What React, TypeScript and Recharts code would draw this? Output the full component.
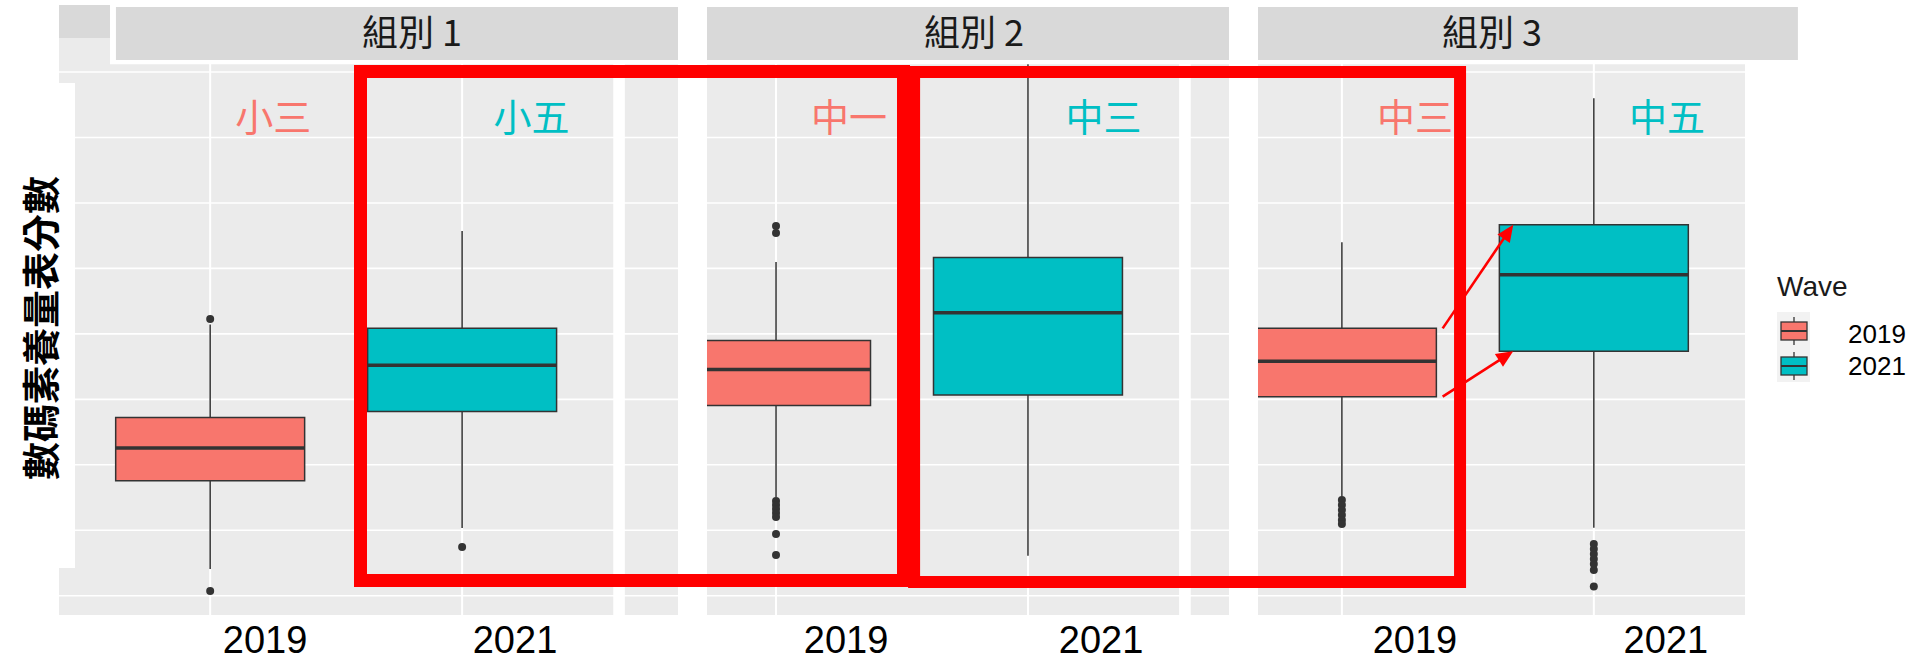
import { ComposedChart, XAxis, YAxis, ReferenceArea, ReferenceLine, Scatter } from 'recharts';

// facets, years and the grade shown in each box (order: 組別1-2019, 組別1-2021, 組別2-2019, ...)
const GROUPS = ['組別 1', '組別 2', '組別 3'];
const YEARS = ['2019', '2021'];
const GRADES = ['小三', '小五', '中一', '中三', '中三', '中五'];

// box statistics
const WHISKER_HIGH = [40.71, 47.86, 45.49, 62.0, 46.99, 58.0];
const Q3 = [33.62, 40.42, 39.5, 45.83, 40.42, 48.34];
const MEDIAN = [31.28, 37.6, 37.27, 41.61, 37.91, 44.52];
const Q1 = [28.79, 34.07, 34.52, 35.33, 35.2, 38.68];
const WHISKER_LOW = [22.04, 25.17, 27.54, 23.06, 27.57, 25.19];
const OUTLIERS = [
  [41.14, 20.36],
  [23.72],
  [48.24, 47.71, 27.23, 26.93, 26.62, 26.32, 26.01, 24.71, 23.11],
  [],
  [27.31, 26.93, 26.54, 26.16, 25.78, 25.48],
  [23.95, 23.57, 23.19, 22.8, 22.42, 21.96, 20.7],
];
const GRID_VALUES = [20, 25, 30, 35, 40, 45, 50, 55, 60];

// layout (data units)
const W = 1912;
const H = 661;
const X_DOMAIN = [-0.6, 6.092];
const Y_DOMAIN = [18.526, 62.6];
const PANEL_STEP = 2.246;
const BOX_HALF = 0.375;
const COLORS = ['#F8766D', '#00BFC4'];
const PANEL_BG = '#EBEBEB';
const STRIP_BG = '#D9D9D9';
const BOX_LINE = '#333333';
// the pasted-together picture shifts its texts a little right of each box
const TICK_SHIFT = [0.218, 0.21, 0.278, 0.29, 0.29, 0.286];
const GRADE_SHIFT = [0.25, 0.275, 0.29, 0.3, 0.29, 0.29];

const pos = (i: number) => Math.floor(i / 2) * PANEL_STEP + (i % 2);
const idx = [0, 1, 2, 3, 4, 5];

const outlierData = OUTLIERS.flatMap((vals, i) => vals.map((y) => ({ x: pos(i), y })));
const gradeLabels = GRADES.map((g, i) => ({ x: pos(i) + GRADE_SHIFT[i], y: 56.72, text: g, year: i % 2 }));
const tickPositions = idx.map((i) => pos(i) + TICK_SHIFT[i]);

// collage pieces: white cover-ups, pasted strips, red frames
const STRIP_TEXT_X = [0.801, 3.032, 5.088];
const STRIPS = [
  [-0.374, 1.857],
  [1.972, 4.044],
  [4.159, 6.302],
];
const WHITE_GAPS = [
  [1.857, 1.972],
  [4.044, 4.159],
];
const RED_FRAMES = [
  { x1: 0.5967, x2: 2.752, y1: 21.16, y2: 60.04 },
  { x1: 2.794, x2: 4.961, y1: 21.05, y2: 60.0 },
];

const Arrow = (p: any) => {
  const { x1, y1, x2, y2 } = p;
  const dx = x2 - x1;
  const dy = y2 - y1;
  const len = Math.sqrt(dx * dx + dy * dy);
  const ux = dx / len;
  const uy = dy / len;
  const hl = 17;
  const hw = 7.5;
  const bx = x2 - ux * hl;
  const by = y2 - uy * hl;
  return (
    <g>
      <line x1={x1} y1={y1} x2={bx + ux * 2} y2={by + uy * 2} stroke="#FF0000" strokeWidth={2.6} />
      <polygon
        points={`${x2},${y2} ${bx - uy * hw},${by + ux * hw} ${bx + uy * hw},${by - ux * hw}`}
        fill="#FF0000"
      />
    </g>
  );
};

const XTick = (p: any) => (
  <text
    x={p.x}
    y={H - 8}
    textAnchor="middle"
    fontSize={38}
    fontFamily="'Liberation Sans', Arial, sans-serif"
    fill="#000"
  >
    {YEARS[p.index % 2]}
  </text>
);

const GradeText = (p: any) => (
  <text
    x={p.cx}
    y={p.cy}
    textAnchor="middle"
    dominantBaseline="central"
    fontSize={38}
    fontFamily="'Noto Sans CJK TC', sans-serif"
    fill={COLORS[p.payload.year]}
  >
    {p.payload.text}
  </text>
);

export default function App() {
  const yTop = 65.6;
  return (
    <div style={{ position: 'absolute', left: 0, top: 0, width: W, height: H, background: '#fff' }}>
      <ComposedChart width={W} height={H} margin={{ top: 38, right: 167, bottom: 0, left: 59 }}>
        <XAxis
          type="number"
          dataKey="x"
          domain={X_DOMAIN}
          allowDataOverflow
          ticks={tickPositions}
          interval={0}
          height={46}
          axisLine={false}
          tickLine={false}
          tick={<XTick />}
        />
        <YAxis type="number" dataKey="y" domain={Y_DOMAIN} allowDataOverflow hide />

        {/* panel backgrounds */}
        {GROUPS.map((g, p) => (
          <ReferenceArea
            key={'bg' + g}
            x1={pos(2 * p) - 0.6}
            x2={pos(2 * p + 1) + 0.6}
            y1={Y_DOMAIN[0]}
            y2={Y_DOMAIN[1]}
            fill={PANEL_BG}
            fillOpacity={1}
            stroke="none"
            ifOverflow="visible"
            zIndex={1}
          />
        ))}

        {/* grid */}
        {GRID_VALUES.map((v) => (
          <ReferenceLine key={'h' + v} y={v} stroke="#fff" strokeWidth={1.6} zIndex={2} />
        ))}
        {idx.map((i) => (
          <ReferenceLine key={'v' + i} x={pos(i)} stroke="#fff" strokeWidth={2} zIndex={2} />
        ))}

        {/* whiskers */}
        {idx.map((i) => (
          <ReferenceLine
            key={'wh' + i}
            segment={[{ x: pos(i), y: Q3[i] }, { x: pos(i), y: WHISKER_HIGH[i] }]}
            stroke={BOX_LINE}
            strokeWidth={1.5}
            zIndex={3}
          />
        ))}
        {idx.map((i) => (
          <ReferenceLine
            key={'wl' + i}
            segment={[{ x: pos(i), y: WHISKER_LOW[i] }, { x: pos(i), y: Q1[i] }]}
            stroke={BOX_LINE}
            strokeWidth={1.5}
            zIndex={3}
          />
        ))}

        {/* boxes */}
        {idx.map((i) => (
          <ReferenceArea
            key={'box' + i}
            x1={pos(i) - BOX_HALF}
            x2={pos(i) + BOX_HALF}
            y1={Q1[i]}
            y2={Q3[i]}
            fill={COLORS[i % 2]}
            fillOpacity={1}
            stroke={BOX_LINE}
            strokeWidth={1.5}
            zIndex={4}
          />
        ))}
        {idx.map((i) => (
          <ReferenceLine
            key={'med' + i}
            segment={[{ x: pos(i) - BOX_HALF, y: MEDIAN[i] }, { x: pos(i) + BOX_HALF, y: MEDIAN[i] }]}
            stroke={BOX_LINE}
            strokeWidth={3.5}
            zIndex={5}
          />
        ))}

        <Scatter
          data={outlierData}
          isAnimationActive={false}
          zIndex={6}
          shape={(p: any) => <circle cx={p.cx} cy={p.cy} r={4} fill={BOX_LINE} />}
        />

        {/* white cover-ups */}
        {WHITE_GAPS.map((g, k) => (
          <ReferenceArea
            key={'gap' + k}
            x1={g[0]}
            x2={g[1]}
            y1={Y_DOMAIN[0]}
            y2={yTop}
            fill="#fff"
            fillOpacity={1}
            stroke="none"
            ifOverflow="visible"
            zIndex={7}
          />
        ))}
        <ReferenceArea
          x1={-0.3976}
          x2={6.31}
          y1={60.6}
          y2={yTop}
          fill="#fff"
          fillOpacity={1}
          stroke="none"
          ifOverflow="visible"
          zIndex={7}
        />
        <ReferenceArea
          x1={-0.6754}
          x2={-0.5365}
          y1={22.12}
          y2={59.16}
          fill="#fff"
          fillOpacity={1}
          stroke="none"
          ifOverflow="visible"
          zIndex={7}
        />

        {/* strips */}
        <ReferenceArea
          x1={-0.6}
          x2={-0.3976}
          y1={62.6}
          y2={65.13}
          fill={STRIP_BG}
          fillOpacity={1}
          stroke="none"
          ifOverflow="visible"
          zIndex={8}
        />
        {STRIPS.map((s, k) => (
          <ReferenceArea
            key={'strip' + k}
            x1={s[0]}
            x2={s[1]}
            y1={60.92}
            y2={64.97}
            fill={STRIP_BG}
            fillOpacity={1}
            stroke="none"
            ifOverflow="visible"
            zIndex={8}
          />
        ))}
        {GROUPS.map((g, k) => (
          <ReferenceArea
            key={'stripText' + k}
            x1={STRIP_TEXT_X[k] - 0.3}
            x2={STRIP_TEXT_X[k] + 0.3}
            y1={61.5}
            y2={64.48}
            fill="none"
            fillOpacity={0}
            stroke="none"
            ifOverflow="visible"
            zIndex={8}
            label={{
              value: g,
              position: 'center',
              fill: '#1A1A1A',
              fontSize: 36,
              fontFamily: "'Noto Sans CJK TC', sans-serif",
            }}
          />
        ))}

        {/* red frames and arrows */}
        {RED_FRAMES.map((r, k) => (
          <ReferenceArea
            key={'red' + k}
            {...r}
            fill="none"
            fillOpacity={0}
            stroke="#FF0000"
            strokeWidth={k === 0 ? 13 : 12}
            ifOverflow="visible"
            zIndex={9}
          />
        ))}
        <ReferenceLine
          segment={[{ x: pos(4) + 0.4, y: Q3[4] }, { x: pos(5) - 0.32, y: Q3[5] }]}
          shape={Arrow}
          zIndex={9}
        />
        <ReferenceLine
          segment={[{ x: pos(4) + 0.4, y: Q1[4] }, { x: pos(5) - 0.32, y: Q1[5] }]}
          shape={Arrow}
          zIndex={9}
        />

        <Scatter data={gradeLabels} isAnimationActive={false} zIndex={10} shape={GradeText} />
      </ComposedChart>

      {/* y title and legend */}
      <svg
        width={W}
        height={H}
        style={{ position: 'absolute', left: 0, top: 0, pointerEvents: 'none' }}
      >
        <text
          x={38}
          y={328}
          transform="rotate(-90 38 328)"
          textAnchor="middle"
          dominantBaseline="central"
          fontSize={38}
          fontWeight={700}
          fontFamily="'Noto Sans CJK TC', sans-serif"
          fill="#000"
        >
          數碼素養量表分數
        </text>
        <text x={1777} y={296} fontSize={28} fontFamily="'Liberation Sans', Arial, sans-serif" fill="#1A1A1A">
          Wave
        </text>
        <rect x={1777} y={312} width={33} height={70} fill="#F2F2F2" />
        {YEARS.map((yr, k) => {
          const cy = 331 + k * 35;
          return (
            <g key={yr}>
              <line x1={1794} x2={1794} y1={cy - 14} y2={cy + 14} stroke={BOX_LINE} strokeWidth={1.3} />
              <rect x={1781} y={cy - 9} width={26} height={18} fill={COLORS[k]} stroke={BOX_LINE} strokeWidth={1.3} />
              <line x1={1781} x2={1807} y1={cy} y2={cy} stroke={BOX_LINE} strokeWidth={2} />
              <text
                x={1848}
                y={334 + k * 32}
                dominantBaseline="central"
                fontSize={26}
                fontFamily="'Liberation Sans', Arial, sans-serif"
                fill="#000"
              >
                {yr}
              </text>
            </g>
          );
        })}
      </svg>
    </div>
  );
}
